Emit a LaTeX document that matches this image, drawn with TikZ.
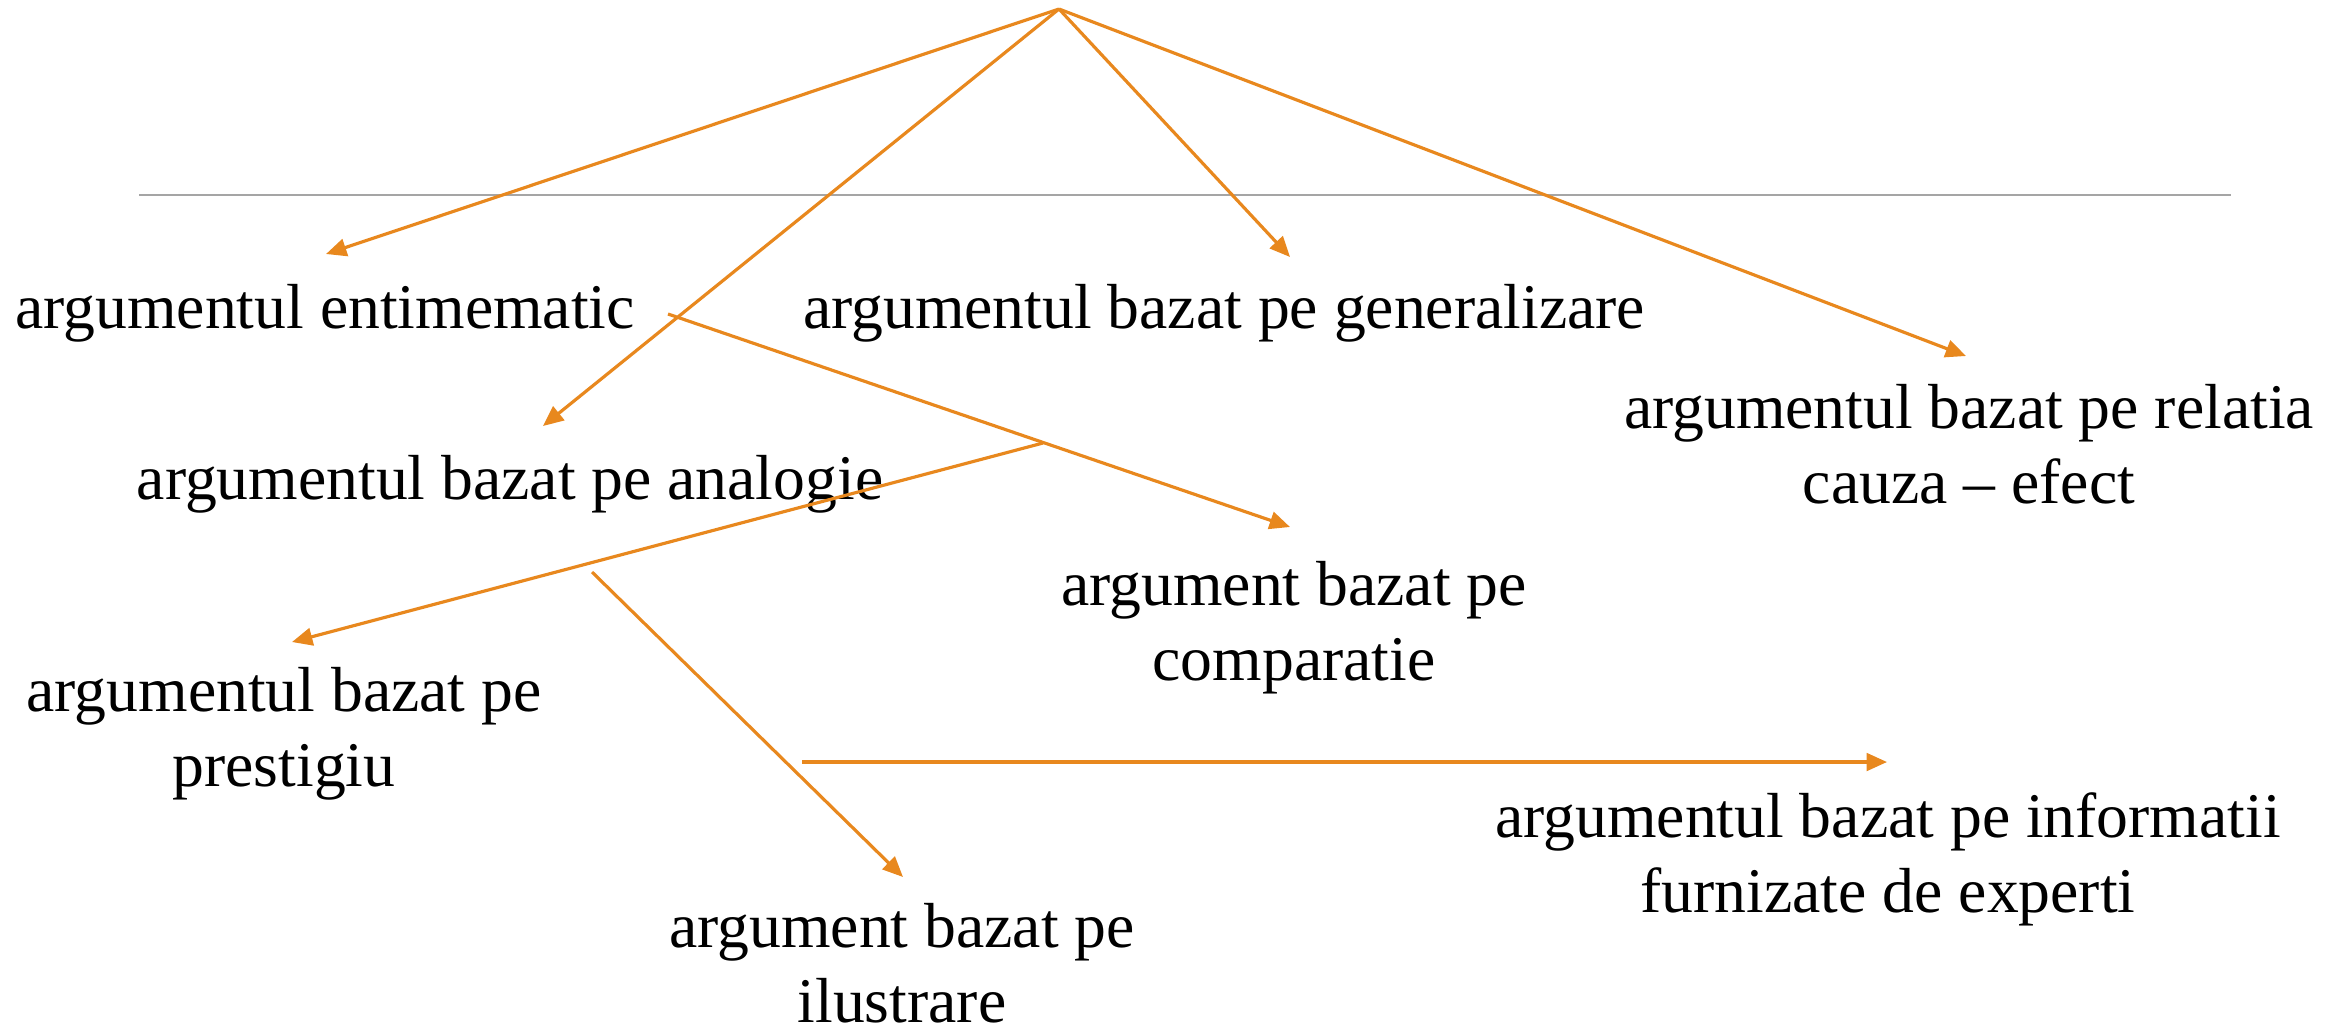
\documentclass[tikz,border=0pt]{standalone}
\usepackage{fontspec}
\setmainfont{Liberation Serif}
\usepackage{tikz}
\usetikzlibrary{arrows.meta, positioning}
\definecolor{argorange}{RGB}{232,136,30}
\definecolor{rulegray}{RGB}{165,165,165}

\begin{document}
\begin{tikzpicture}[x=0.01cm, y=-0.01cm,
    lbl/.style={font=\fontsize{18.1}{21.3}\selectfont, inner sep=0pt, align=center, anchor=base},
    arr/.style={draw=argorange, line width=0.9pt, -{Triangle[length=5.8pt, width=5pt]}}]
  \useasboundingbox (0,0) rectangle (2346,1029);

  % top rule
  \coordinate (ruleL) at (139,195);
  \coordinate (ruleR) at (2231,195);
  \draw[rulegray, line width=0.45pt] (ruleL) -- (ruleR);

  % labels (base = baseline of last line)
  \node[lbl] (entim) at (325,328) {argumentul entimematic};
  \node[lbl] (gener) at (1224,328) {argumentul bazat pe generalizare};
  \node[lbl] (analog) at (510,499) {argumentul bazat pe analogie};
  \node[lbl] (cauza) at (1969,503) {argumentul bazat pe relatia\\cauza -- efect};
  \node[lbl] (compar) at (1294,680) {argument bazat pe\\comparatie};
  \node[lbl] (prestig) at (284,786) {argumentul bazat pe\\prestigiu};
  \node[lbl] (expert) at (1888,912) {argumentul bazat pe informatii\\furnizate de experti};
  \node[lbl] (ilustr) at (902,1022) {argument bazat pe\\ilustrare};

  % connector ends
  \coordinate (apex) at (1059,9);
  \coordinate (toEntim) at (326,254);
  \coordinate (toAnalog) at (543,426);
  \coordinate (toGener) at (1290,257);
  \coordinate (toCauza) at (1966,356);
  \coordinate (fromCompar) at (668,314);
  \coordinate (toCompar) at (1290,527);
  \coordinate (fromPrestig) at (1043,443);
  \coordinate (toPrestig) at (292,642);
  \coordinate (fromIlustr) at (592,572);
  \coordinate (toIlustr) at (903,877);
  \coordinate (fromExpert) at (802,762);
  \coordinate (toExpert) at (1887,762);

  % arrows
  \foreach \t in {toEntim, toAnalog, toGener, toCauza}
    \draw[arr] (apex) -- (\t);
  \draw[arr] (fromCompar) -- (toCompar);
  \draw[arr] (fromPrestig) -- (toPrestig);
  \draw[arr] (fromIlustr) -- (toIlustr);
  \draw[arr] (fromExpert) -- (toExpert);
\end{tikzpicture}
\end{document}
